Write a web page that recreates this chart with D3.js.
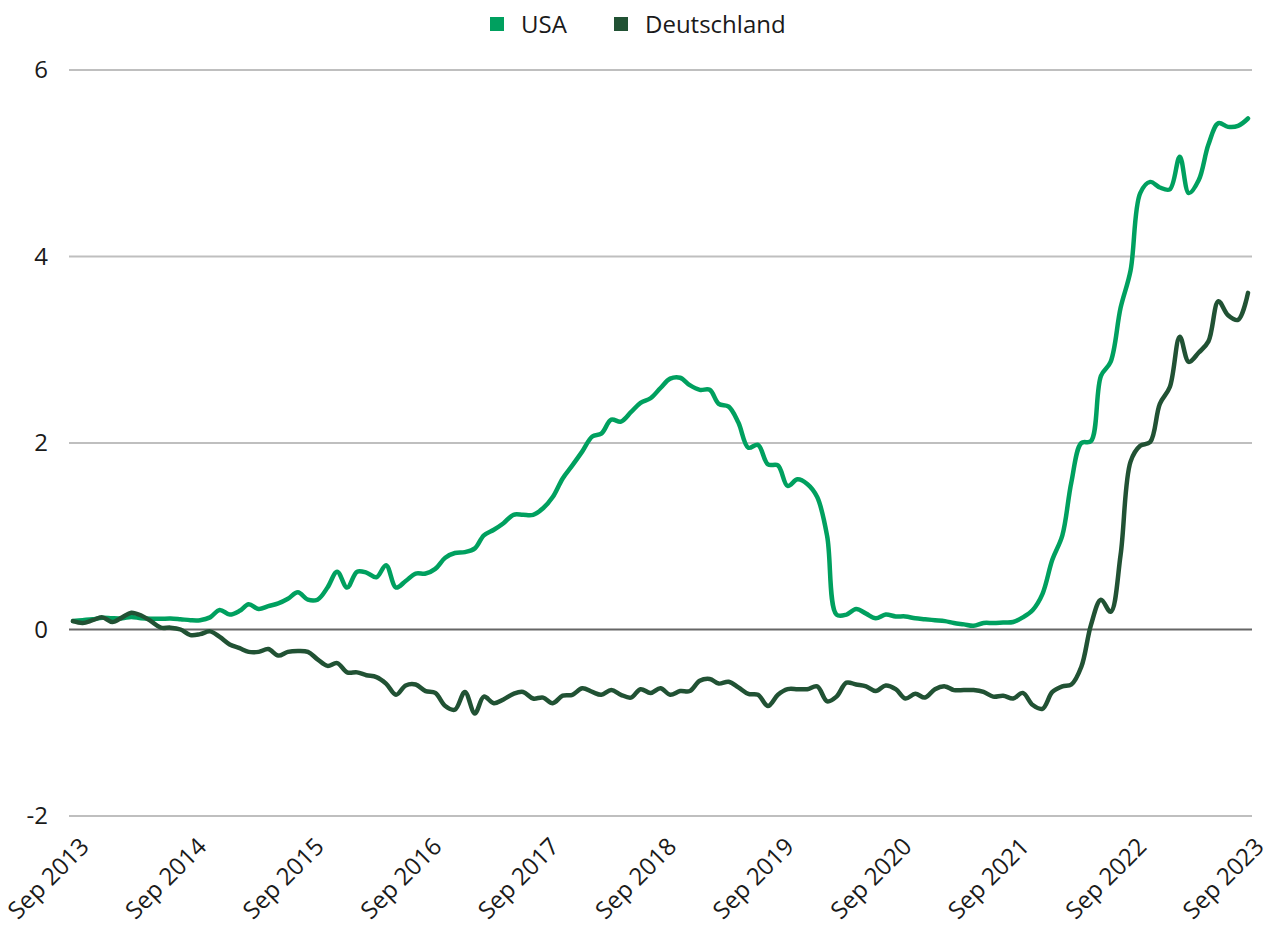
<!DOCTYPE html>
<html>
<head>
<meta charset="utf-8">
<script src="https://cdn.jsdelivr.net/npm/d3@7"></script>
<style>
  body { margin: 0; background: #fff; }
  text { font-family: "Open Sans", "Noto Sans", sans-serif; fill: #1a1a1a; }
</style>
</head>
<body>
<script>
// monthly values, Sep 2013 .. Sep 2023
const startMonth = new Date(2013, 8, 1);
const seriesNames = ['USA', 'Deutschland'];
const seriesColors = ['#00a05f', '#215234'];

const usa = [
  0.09, 0.10, 0.11, 0.125, 0.12, 0.12, 0.135, 0.12, 0.115, 0.115, 0.118, 0.11,
  0.10, 0.10, 0.13, 0.21, 0.16, 0.20, 0.27, 0.22, 0.25, 0.28, 0.33, 0.40,
  0.32, 0.32, 0.45, 0.62, 0.45, 0.62, 0.61, 0.56, 0.69, 0.45, 0.52, 0.60,
  0.60, 0.65, 0.77, 0.82, 0.83, 0.87, 1.01, 1.07, 1.14, 1.23, 1.23, 1.23,
  1.30, 1.42, 1.62, 1.76, 1.91, 2.07, 2.10, 2.25, 2.23, 2.33, 2.43, 2.48,
  2.59, 2.69, 2.70, 2.62, 2.57, 2.57, 2.42, 2.39, 2.22, 1.95, 1.98, 1.77,
  1.76, 1.54, 1.61, 1.56, 1.42, 1.00, 0.16, 0.16, 0.22, 0.17, 0.12, 0.16,
  0.14, 0.14, 0.12, 0.11, 0.10, 0.09, 0.07, 0.055, 0.04, 0.07, 0.07, 0.075,
  0.08, 0.13, 0.21, 0.38, 0.75, 1.01, 1.58, 2.00, 2.02, 2.72, 2.87, 3.45,
  3.85, 4.68, 4.80, 4.74, 4.72, 5.07, 4.68, 4.82, 5.20, 5.43, 5.39, 5.40,
  5.48
];

const deutschland = [
  0.09, 0.07, 0.10, 0.13, 0.08, 0.13, 0.18, 0.15, 0.09, 0.02, 0.02, 0.00,
  -0.06, -0.05, -0.02, -0.08, -0.16, -0.20, -0.24, -0.24, -0.21, -0.28, -0.24, -0.23,
  -0.24, -0.32, -0.39, -0.36, -0.46, -0.46, -0.49, -0.51, -0.58, -0.70, -0.60, -0.59,
  -0.66, -0.68, -0.82, -0.86, -0.67, -0.90, -0.72, -0.79, -0.75, -0.69, -0.67, -0.74,
  -0.73, -0.79, -0.71, -0.70, -0.63, -0.67, -0.70, -0.65, -0.70, -0.73, -0.64, -0.68,
  -0.63, -0.70, -0.66, -0.66, -0.55, -0.53, -0.58, -0.56, -0.62, -0.69, -0.70, -0.82,
  -0.70, -0.64, -0.64, -0.64, -0.61, -0.77, -0.72, -0.57, -0.59, -0.61, -0.66, -0.60,
  -0.64, -0.74, -0.69, -0.73, -0.64, -0.61, -0.65, -0.65, -0.65, -0.67, -0.72, -0.71,
  -0.74, -0.68, -0.81, -0.85, -0.67, -0.61, -0.59, -0.40, 0.05, 0.32, 0.19, 0.80,
  1.80, 1.97, 2.01, 2.42, 2.60, 3.14, 2.87, 2.97, 3.09, 3.52, 3.37, 3.32,
  3.61
];

const yTicks = [-2, 0, 2, 4, 6];
const xTickYears = [2013, 2014, 2015, 2016, 2017, 2018, 2019, 2020, 2021, 2022, 2023];

const width = 1273, height = 925;
const fmt = d3.timeFormat('Sep %Y');

const svg = d3.select('body').append('svg')
  .attr('width', width)
  .attr('height', height);

const x = d3.scaleTime()
  .domain([startMonth, new Date(2023, 8, 1)])
  .range([73, 1248]);

const y = d3.scaleLinear()
  .domain([-2, 6])
  .range([816, 70]);

// gridlines
svg.append('g').selectAll('line')
  .data(yTicks)
  .enter().append('line')
    .attr('x1', 69).attr('x2', 1252)
    .attr('y1', d => y(d)).attr('y2', d => y(d))
    .attr('stroke', d => d === 0 ? '#666' : '#bfbfbf')
    .attr('stroke-width', 2);

// y axis labels (plain hyphen for negatives)
const yAxis = d3.axisLeft(y).tickValues(yTicks).tickSize(0).tickPadding(0)
  .tickFormat(d => String(d));
svg.append('g')
  .attr('transform', 'translate(48,0)')
  .call(yAxis)
  .call(g => g.select('.domain').remove())
  .selectAll('text')
    .style('font-size', '24px')
    .attr('fill', '#1a1a1a');

// x axis labels, rotated
const xAxis = d3.axisBottom(x)
  .tickValues(xTickYears.map(yr => new Date(yr, 8, 1)))
  .tickFormat(fmt)
  .tickSize(0);
svg.append('g')
  .attr('transform', 'translate(0,834)')
  .call(xAxis)
  .call(g => g.select('.domain').remove())
  .selectAll('text')
    .style('font-size', '24px')
    .attr('fill', '#1a1a1a')
    .attr('text-anchor', 'end')
    .attr('dy', '0.7em')
    .attr('transform', 'translate(3,0) rotate(-45)');

// lines
const line = d3.line()
  .x((d, i) => x(d3.timeMonth.offset(startMonth, i)))
  .y(d => y(d))
  .curve(d3.curveCatmullRom.alpha(0.5));

[usa, deutschland].forEach((vals, k) => {
  svg.append('path')
    .datum(vals)
    .attr('fill', 'none')
    .attr('stroke', seriesColors[k])
    .attr('stroke-width', 4.5)
    .attr('stroke-linejoin', 'round')
    .attr('stroke-linecap', 'round')
    .attr('d', line);
});

// legend
const legend = svg.append('g');
const legendX = [490, 614];
seriesNames.forEach((name, k) => {
  legend.append('rect')
    .attr('x', legendX[k]).attr('y', 17)
    .attr('width', 14).attr('height', 14)
    .attr('fill', seriesColors[k]);
  legend.append('text')
    .attr('x', legendX[k] + 31).attr('y', 25)
    .attr('dy', '0.35em')
    .style('font-size', '24px')
    .text(name);
});
</script>
</body>
</html>
